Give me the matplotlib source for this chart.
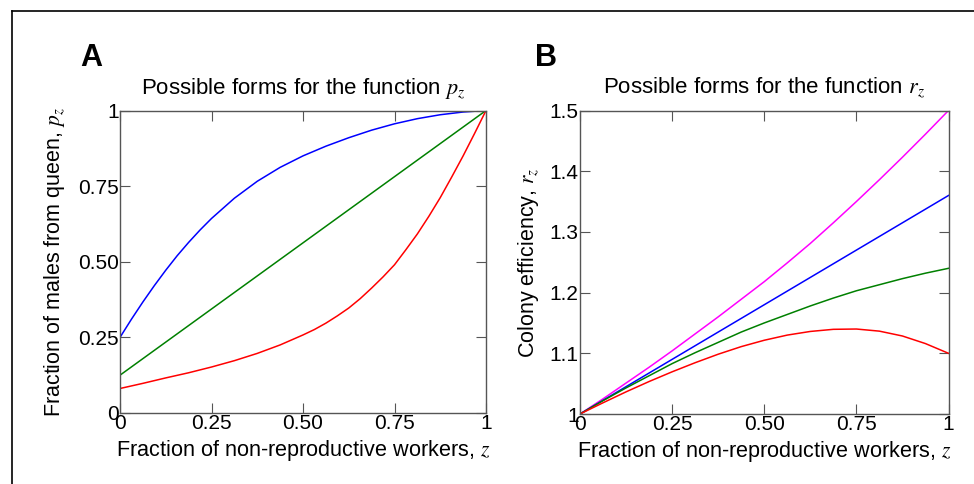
import matplotlib
matplotlib.use("Agg")
import matplotlib.pyplot as plt
from matplotlib.lines import Line2D

plt.rcParams['font.family'] = ['Liberation Sans', 'DejaVu Sans']
plt.rcParams['mathtext.fontset'] = 'stix'

# Panel A: fraction of males from queen, p_z
z_blue_a = [0, 0.03125, 0.0625, 0.09375, 0.125, 0.15625, 0.1875, 0.21875, 0.25,
            0.3125, 0.375, 0.4375, 0.5, 0.5625, 0.625, 0.6875, 0.75, 0.8125,
            0.875, 0.9375, 1]
p_blue = [0.25, 0.31, 0.367, 0.421, 0.472, 0.52, 0.564, 0.605, 0.643,
          0.71, 0.766, 0.812, 0.85, 0.882, 0.91, 0.935, 0.956, 0.973,
          0.986, 0.995, 1.0]
z_green_a = [0, 1]
p_green = [0.125, 1.0]
z_red_a = [0, 0.0625, 0.125, 0.1875, 0.25, 0.3125, 0.375, 0.4375, 0.5,
           0.53125, 0.5625, 0.59375, 0.625, 0.65625, 0.6875, 0.71875, 0.75,
           0.78125, 0.8125, 0.84375, 0.875, 0.90625, 0.9375, 0.96875, 1]
p_red = [0.081, 0.098, 0.116, 0.133, 0.152, 0.173, 0.197, 0.225, 0.258,
         0.276, 0.297, 0.321, 0.347, 0.378, 0.413, 0.45, 0.49,
         0.54, 0.592, 0.65, 0.712, 0.78, 0.85, 0.924, 1.0]

# Panel B: colony efficiency, r_z
z_b = [0, 0.0625, 0.125, 0.1875, 0.25, 0.3125, 0.375, 0.4375, 0.5,
       0.5625, 0.625, 0.6875, 0.75, 0.8125, 0.875, 0.9375, 1]
r_magenta = [1, 1.025, 1.051, 1.077, 1.104, 1.132, 1.16, 1.189, 1.218,
             1.249, 1.281, 1.315, 1.35, 1.386, 1.423, 1.461, 1.5]
r_blue = [1, 1.0225, 1.045, 1.0675, 1.09, 1.1125, 1.135, 1.1575, 1.18,
          1.2025, 1.225, 1.2475, 1.27, 1.2925, 1.315, 1.3375, 1.36]
r_green = [1, 1.022, 1.043, 1.063, 1.083, 1.101, 1.118, 1.135, 1.15,
           1.164, 1.178, 1.191, 1.203, 1.213, 1.223, 1.232, 1.24]
r_red = [1, 1.0185, 1.0365, 1.0535, 1.0695, 1.0845, 1.0985, 1.111, 1.1215,
         1.130, 1.136, 1.1395, 1.140, 1.1365, 1.1285, 1.116, 1.1]

x_ticks = [0, 0.25, 0.5, 0.75, 1]
x_ticklabels = ['0', '0.25', '0.50', '0.75', '1']
ya_ticks = [0, 0.25, 0.5, 0.75, 1]
ya_ticklabels = ['0', '0.25', '0.50', '0.75', '1']
yb_ticks = [1, 1.1, 1.2, 1.3, 1.4, 1.5]
yb_ticklabels = ['1', '1.1', '1.2', '1.3', '1.4', '1.5']

W, H = 974, 484
fig = plt.figure(figsize=(W / 100, H / 100), dpi=100)

# thin frame around the figure (open at right/bottom)
fig.add_artist(Line2D([12 / W, 1], [1 - 11 / H, 1 - 11 / H], color='black', lw=1.2))
fig.add_artist(Line2D([12 / W, 12 / W], [0, 1 - 11 / H], color='black', lw=1.2))

ax_a = fig.add_axes([120 / W, 71 / H, 366 / W, 302.5 / H])
ax_b = fig.add_axes([580 / W, 70 / H, 368.5 / W, 303.5 / H])

ax_a.plot(z_blue_a, p_blue, color='#0000ff', lw=1.1)
ax_a.plot(z_green_a, p_green, color='#008000', lw=1.1)
ax_a.plot(z_red_a, p_red, color='#ff0000', lw=1.1)

ax_b.plot(z_b, r_magenta, color='#ff00ff', lw=1.1)
ax_b.plot(z_b, r_blue, color='#0000ff', lw=1.1)
ax_b.plot(z_b, r_green, color='#008000', lw=1.1)
ax_b.plot(z_b, r_red, color='#ff0000', lw=1.1)

for ax in (ax_a, ax_b):
    ax.set_xlim(0, 1)
    ax.set_xticks(x_ticks)
    ax.set_xticklabels(x_ticklabels)
    ax.tick_params(direction='in', length=7, width=0.8, color='#555555',
                   top=True, right=True, labelsize=15, pad=1)
    for s in ax.spines.values():
        s.set_color('#555555')
        s.set_linewidth(1.0)
    ax.set_xlabel('Fraction of non-reproductive workers, $z$', fontsize=15.6, labelpad=3)

ax_a.set_ylim(0, 1)
ax_a.set_yticks(ya_ticks)
ax_a.set_yticklabels(ya_ticklabels)
ax_a.set_ylabel('Fraction of males from queen, $p_z$', fontsize=15.5, labelpad=8)
ax_a.set_title('Possible forms for the function $p_z$', fontsize=16, pad=12)

ax_b.set_ylim(1, 1.5)
ax_b.set_yticks(yb_ticks)
ax_b.set_yticklabels(yb_ticklabels)
ax_b.set_ylabel('Colony efficiency, $r_z$', fontsize=15.5, labelpad=6)
ax_b.set_title('Possible forms for the function $r_z$', fontsize=16, pad=12)

fig.text(80 / W, 1 - 66 / H, 'A', fontsize=22, fontweight='bold', va='baseline')
fig.text(535 / W, 1 - 66 / H, 'B', fontsize=22, fontweight='bold', va='baseline')

fig.savefig('out.png', dpi=100)
